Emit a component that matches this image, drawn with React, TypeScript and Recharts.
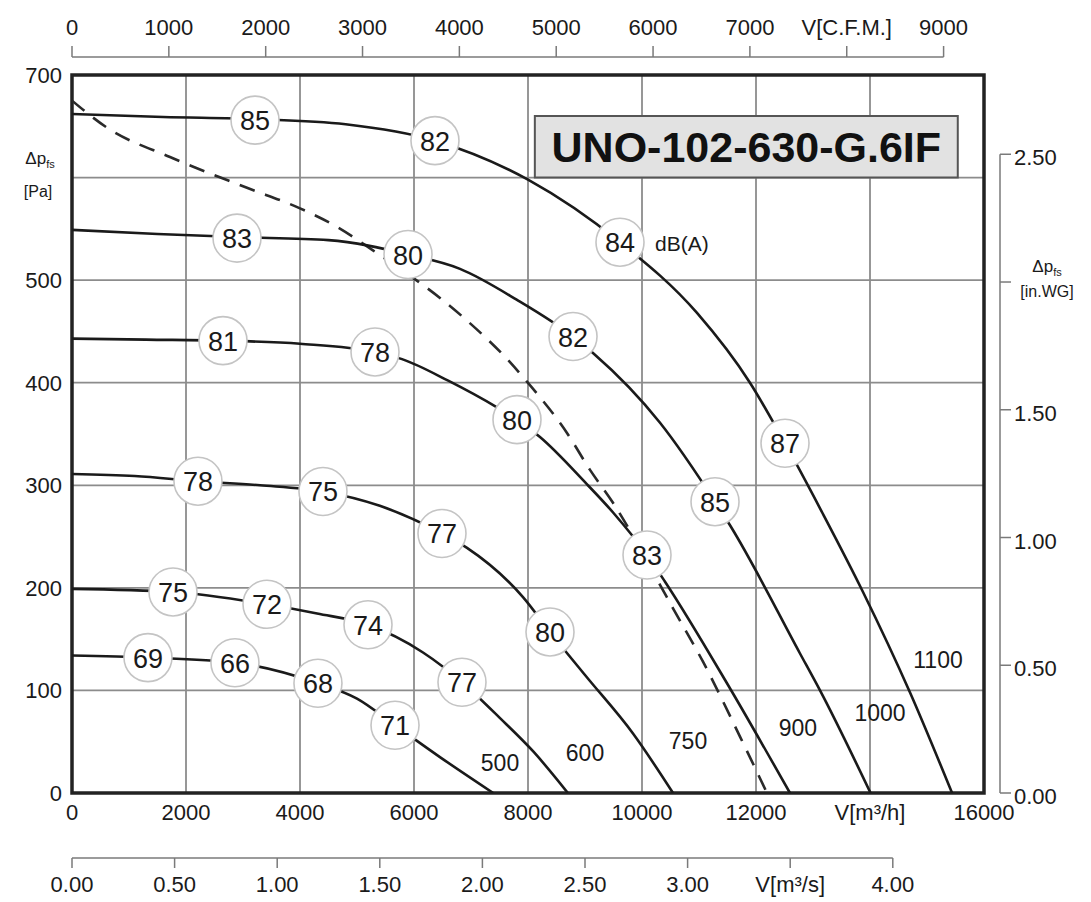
import React from 'react';
import {
  ComposedChart,
  Line,
  Scatter,
  XAxis,
  YAxis,
  CartesianGrid,
  ReferenceLine,
  ReferenceArea,
} from 'recharts';

const FONT = '"Liberation Sans", Arial, Helvetica, sans-serif';
const INK = '#1a1a1a';
const RULE = '#7a7a7a';

// airflow q in m³/h, static pressure p in Pa
const curve500 = [
  { q: 0, p: 134 }, { q: 1333, p: 132 }, { q: 2859, p: 127 }, { q: 4315, p: 107 },
  { q: 5000, p: 92 }, { q: 5667, p: 66 }, { q: 6455, p: 35 }, { q: 7390, p: 0 },
];
const curve600 = [
  { q: 0, p: 199 }, { q: 1772, p: 196 }, { q: 3421, p: 184 }, { q: 4300, p: 175 },
  { q: 5193, p: 164 }, { q: 6158, p: 137 }, { q: 6842, p: 108 }, { q: 7509, p: 73 },
  { q: 8100, p: 40 }, { q: 8700, p: 0 },
];
const curve750 = [
  { q: 0, p: 311 }, { q: 1100, p: 309 }, { q: 2210, p: 304 }, { q: 3300, p: 300 },
  { q: 4403, p: 294 }, { q: 5400, p: 280 }, { q: 6491, p: 253 }, { q: 6930, p: 239 },
  { q: 7912, p: 191 }, { q: 8386, p: 157 }, { q: 9000, p: 115 }, { q: 9842, p: 58 },
  { q: 10544, p: 0 },
];
const curve900 = [
  { q: 0, p: 443 }, { q: 1300, p: 442 }, { q: 2649, p: 441 }, { q: 4000, p: 438 },
  { q: 5316, p: 430 }, { q: 5790, p: 423 }, { q: 6600, p: 402 }, { q: 7456, p: 376 },
  { q: 7807, p: 364 }, { q: 8210, p: 347 }, { q: 9000, p: 303 }, { q: 9500, p: 273 },
  { q: 10088, p: 232 }, { q: 10404, p: 206 }, { q: 11491, p: 107 }, { q: 12596, p: 0 },
];
const curve1000 = [
  { q: 0, p: 549 }, { q: 1500, p: 545 }, { q: 2895, p: 542 }, { q: 4500, p: 539 },
  { q: 5895, p: 525 }, { q: 6807, p: 511 }, { q: 7800, p: 481 }, { q: 8790, p: 445 },
  { q: 9140, p: 429 }, { q: 10316, p: 361 }, { q: 11281, p: 284 }, { q: 11544, p: 261 },
  { q: 12772, p: 136 }, { q: 13123, p: 100 }, { q: 14010, p: 0 },
];
const curve1100 = [
  { q: 0, p: 662 }, { q: 1600, p: 659 }, { q: 3211, p: 657 }, { q: 4800, p: 652 },
  { q: 6368, p: 636 }, { q: 8000, p: 598 }, { q: 9614, p: 537 }, { q: 10965, p: 468 },
  { q: 11894, p: 400 }, { q: 12509, p: 341 }, { q: 13175, p: 272 }, { q: 13877, p: 196 },
  { q: 14702, p: 98 }, { q: 15440, p: 0 },
];
const dashedCurve = [
  { q: 0, p: 675 }, { q: 631, p: 648 }, { q: 1719, p: 620 }, { q: 3070, p: 590 },
  { q: 4000, p: 570 }, { q: 4649, p: 552 }, { q: 5280, p: 529 }, { q: 6860, p: 464 },
  { q: 7684, p: 420 }, { q: 7982, p: 401 }, { q: 8684, p: 351 }, { q: 9088, p: 315 },
  { q: 9491, p: 283 }, { q: 10316, p: 203 }, { q: 10544, p: 180 }, { q: 11070, p: 128 },
  { q: 11719, p: 55 }, { q: 12193, p: 0 },
];

// sound power level badges on the curves, dB(A)
const dbMarks = [
  { q: 3211, p: 656, db: 85 }, { q: 6368, p: 636, db: 82 }, { q: 9614, p: 537, db: 84 }, { q: 12509, p: 341, db: 87 },
  { q: 2895, p: 541, db: 83 }, { q: 5895, p: 525, db: 80 }, { q: 8790, p: 445, db: 82 }, { q: 11281, p: 284, db: 85 },
  { q: 2649, p: 441, db: 81 }, { q: 5316, p: 430, db: 78 }, { q: 7807, p: 364, db: 80 }, { q: 10088, p: 232, db: 83 },
  { q: 2210, p: 304, db: 78 }, { q: 4403, p: 294, db: 75 }, { q: 6491, p: 253, db: 77 }, { q: 8386, p: 157, db: 80 },
  { q: 1772, p: 196, db: 75 }, { q: 3421, p: 184, db: 72 }, { q: 5193, p: 164, db: 74 }, { q: 6842, p: 108, db: 77 },
  { q: 1333, p: 132, db: 69 }, { q: 2859, p: 127, db: 66 }, { q: 4315, p: 107, db: 68 }, { q: 5667, p: 66, db: 71 },
];
const speedTags = [
  { q: 7509, p: 29, rpm: '500' }, { q: 9000, p: 39, rpm: '600' }, { q: 10807, p: 51, rpm: '750' },
  { q: 12736, p: 63, rpm: '900' }, { q: 14175, p: 78, rpm: '1000' }, { q: 15193, p: 130, rpm: '1100' },
];
const unitTag = [{ q: 10228, p: 536, text: 'dB(A)' }];
const modelName = 'UNO-102-630-G.6IF';

const m3hTicks = [0, 2000, 4000, 6000, 8000, 10000, 12000, 14000, 16000];
const cfmTicks = [0, 1000, 2000, 3000, 4000, 5000, 6000, 7000, 8000, 9000];
const m3sTicks = [0, 0.5, 1, 1.5, 2, 2.5, 3, 3.5, 4];
const paTicks = [0, 100, 200, 300, 400, 500, 600, 700];
const inwgTicks = [0, 0.5, 1, 1.5, 2, 2.5];

const M3H_MAX = 16000;
const PA_MAX = 700;
const CFM_MAX = M3H_MAX / 1.699;
const M3S_MAX = M3H_MAX / 3600;
const INWG_MAX = PA_MAX / 249.09;

// rows that give the secondary flow axes something to hang on
const axisRows = [...cfmTicks.map((v) => ({ cfm: v })), ...m3sTicks.map((v) => ({ m3s: v }))];

// secondary axes sit a little away from the plot frame
const PLOT_W = 912;
const PLOT_H = 718;
const TOP_RULE = PA_MAX + (18 / PLOT_H) * PA_MAX;
const LOW_RULE = -(65 / PLOT_H) * PA_MAX;
const RIGHT_RULE = M3H_MAX + (16 / PLOT_W) * M3H_MAX;

const txt = { fontFamily: FONT, fill: INK };
const AXIS_FS = 22;

const BottomTick = ({ x, y, payload }: any) => (
  <text x={x} y={y + 27} textAnchor="middle" fontSize={AXIS_FS} {...txt}>
    {payload.value === 14000 ? 'V[m³/h]' : payload.value}
  </text>
);

const TopTick = ({ x, y, payload }: any) => (
  <g>
    <line x1={x} x2={x} y1={y - 18} y2={y - 29} stroke={RULE} strokeWidth={1.5} />
    <text x={x} y={y - 40} textAnchor="middle" fontSize={AXIS_FS} {...txt}>
      {payload.value === 8000 ? 'V[C.F.M.]' : payload.value}
    </text>
  </g>
);

const LowTick = ({ x, y, payload }: any) => (
  <g>
    <line x1={x} x2={x} y1={y} y2={y + 10} stroke={RULE} strokeWidth={1.5} />
    <text x={x} y={y + 34} textAnchor="middle" fontSize={AXIS_FS} {...txt}>
      {payload.value === 3.5 ? 'V[m³/s]' : payload.value.toFixed(2)}
    </text>
  </g>
);

const LeftTick = ({ x, y, payload }: any) =>
  payload.value === 600 ? (
    <g>
      <text x={x - 32} y={y - 14} textAnchor="middle" fontSize={17} {...txt}>
        Δp<tspan fontSize={11} dy={4}>fs</tspan>
      </text>
      <text x={x - 34} y={y + 19} textAnchor="middle" fontSize={16} {...txt}>[Pa]</text>
    </g>
  ) : (
    <text x={x - 10} y={y + 8} textAnchor="end" fontSize={AXIS_FS} {...txt}>
      {payload.value}
    </text>
  );

const RightTick = ({ x, y, payload }: any) => (
  <g>
    <line x1={x + 16} x2={x + 27} y1={y} y2={y} stroke={RULE} strokeWidth={1.5} />
    {payload.value === 2 ? (
      <g>
        <text x={x + 63} y={y - 10} textAnchor="middle" fontSize={17} {...txt}>
          Δp<tspan fontSize={11} dy={4}>fs</tspan>
        </text>
        <text x={x + 63} y={y + 15} textAnchor="middle" fontSize={16} {...txt}>[in.WG]</text>
      </g>
    ) : (
      <text x={x + 30} y={y + 11} textAnchor="start" fontSize={AXIS_FS} {...txt}>
        {payload.value.toFixed(2)}
      </text>
    )}
  </g>
);

const DbBadge = ({ cx, cy, payload }: any) => (
  <g>
    <circle cx={cx} cy={cy} r={24} fill="#ffffff" stroke="#c4c4c4" strokeWidth={1.6} />
    <text x={cx} y={cy + 10} textAnchor="middle" fontSize={27} {...txt}>
      {payload.db}
    </text>
  </g>
);

const SpeedTag = ({ cx, cy, payload }: any) => (
  <text x={cx} y={cy + 8} textAnchor="middle" fontSize={23} {...txt}>
    {payload.rpm}
  </text>
);

const UnitTag = ({ cx, cy, payload }: any) => (
  <text x={cx} y={cy + 8} textAnchor="start" fontSize={21} {...txt}>
    {payload.text}
  </text>
);

const curves = [curve500, curve600, curve750, curve900, curve1000, curve1100];

export default function App() {
  return (
    <div style={{ width: 1080, height: 894, background: '#fff' }}>
      <ComposedChart
        width={1080}
        height={894}
        data={axisRows}
        margin={{ top: 12, right: 24, bottom: 4, left: 8 }}
        style={{ fontFamily: FONT }}
      >
        <XAxis
          xAxisId="m3h"
          dataKey="q"
          type="number"
          domain={[0, M3H_MAX]}
          ticks={m3hTicks}
          interval={0}
          allowDataOverflow
          axisLine={false}
          tickLine={false}
          tickSize={0}
          tickMargin={0}
          height={65}
          tick={BottomTick}
        />
        <XAxis
          xAxisId="m3s"
          dataKey="m3s"
          type="number"
          domain={[0, M3S_MAX]}
          ticks={m3sTicks}
          interval={0}
          allowDataOverflow
          axisLine={false}
          tickLine={false}
          tickSize={0}
          tickMargin={0}
          height={40}
          tick={LowTick}
        />
        <XAxis
          xAxisId="cfm"
          dataKey="cfm"
          orientation="top"
          type="number"
          domain={[0, CFM_MAX]}
          ticks={cfmTicks}
          interval={0}
          allowDataOverflow
          axisLine={false}
          tickLine={false}
          tickSize={0}
          tickMargin={0}
          height={55}
          tick={TopTick}
        />
        <YAxis
          yAxisId="pa"
          type="number"
          domain={[0, PA_MAX]}
          ticks={paTicks}
          interval={0}
          allowDataOverflow
          axisLine={false}
          tickLine={false}
          tickSize={0}
          tickMargin={0}
          width={56}
          tick={LeftTick}
        />
        <YAxis
          yAxisId="inwg"
          orientation="right"
          type="number"
          domain={[0, INWG_MAX]}
          ticks={inwgTicks}
          interval={0}
          allowDataOverflow
          axisLine={false}
          tickLine={false}
          tickSize={0}
          tickMargin={0}
          width={80}
          tick={RightTick}
        />
        <CartesianGrid xAxisId="m3h" yAxisId="pa" stroke="#8c8c8c" strokeWidth={1.8} />

        <ReferenceLine
          xAxisId="cfm"
          yAxisId="pa"
          segment={[{ x: 0, y: TOP_RULE }, { x: 9000, y: TOP_RULE }]}
          ifOverflow="visible"
          stroke={RULE}
          strokeWidth={1.5}
        />
        <ReferenceLine
          xAxisId="m3s"
          yAxisId="pa"
          segment={[{ x: 0, y: LOW_RULE }, { x: 4, y: LOW_RULE }]}
          ifOverflow="visible"
          stroke={RULE}
          strokeWidth={1.5}
        />
        <ReferenceLine
          xAxisId="m3h"
          yAxisId="inwg"
          segment={[{ x: RIGHT_RULE, y: 0 }, { x: RIGHT_RULE, y: 2.5 }]}
          ifOverflow="visible"
          stroke={RULE}
          strokeWidth={1.5}
        />

        <ReferenceArea
          xAxisId="m3h"
          yAxisId="pa"
          x1={8120}
          x2={15540}
          y1={600}
          y2={660}
          fill="#e2e2e2"
          fillOpacity={1}
          stroke="#555"
          strokeWidth={2}
          ifOverflow="visible"
          label={{ value: modelName, position: 'center', fontSize: 43, fontWeight: 'bold', fill: '#111', fontFamily: FONT }}
        />

        <Line
          xAxisId="m3h"
          yAxisId="pa"
          data={dashedCurve}
          dataKey="p"
          type="monotone"
          stroke="#2a2a2a"
          strokeWidth={2.6}
          strokeDasharray="16 11"
          dot={false}
          activeDot={false}
          isAnimationActive={false}
        />
        {curves.map((c, i) => (
          <Line
            key={i}
            xAxisId="m3h"
            yAxisId="pa"
            data={c}
            dataKey="p"
            type="monotone"
            stroke={INK}
            strokeWidth={2.6}
            dot={false}
            activeDot={false}
            isAnimationActive={false}
          />
        ))}

        <Scatter xAxisId="m3h" yAxisId="pa" data={speedTags} dataKey="p" shape={SpeedTag} isAnimationActive={false} />
        <Scatter xAxisId="m3h" yAxisId="pa" data={unitTag} dataKey="p" shape={UnitTag} isAnimationActive={false} />
        <Scatter xAxisId="m3h" yAxisId="pa" data={dbMarks} dataKey="p" shape={DbBadge} isAnimationActive={false} />

        <ReferenceArea
          xAxisId="m3h"
          yAxisId="pa"
          x1={0}
          x2={M3H_MAX}
          y1={0}
          y2={PA_MAX}
          fill="none"
          fillOpacity={0}
          stroke="#222"
          strokeWidth={3.5}
        />
      </ComposedChart>
    </div>
  );
}
